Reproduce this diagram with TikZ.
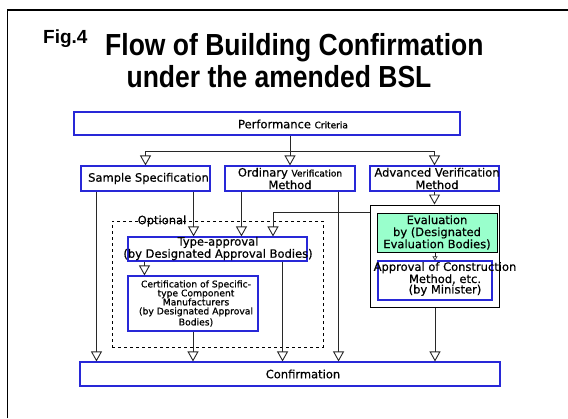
\documentclass[tikz,border=0pt]{standalone}
\usepackage{fontspec}
\setmainfont{DejaVu Sans}[FakeBold=0.6]
\newfontfamily\titlefont{Liberation Sans}
\usetikzlibrary{arrows.meta}
\definecolor{boxblue}{RGB}{40,40,215}
\definecolor{evalgreen}{RGB}{153,255,204}
\definecolor{linegray}{RGB}{40,40,40}
\tikzset{
  x=1pt, y=-1pt,
  bluebox/.style={draw=boxblue, line width=1.1pt, inner sep=0pt, rectangle},
  lbl/.style={inner sep=0pt, align=center, font=\fontsize{11.5}{11.5}\selectfont},
  titletext/.style={inner sep=0pt, font=\titlefont\bfseries\fontsize{26.5}{26.5}\selectfont},
  arr/.style={draw=linegray, line width=0.9pt, -{Triangle[open, length=10pt, width=11pt]}},
  conn/.style={draw=linegray, line width=0.9pt},
}
\begin{document}
\begin{tikzpicture}
\useasboundingbox (0,0) rectangle (568,418);
% outer frame
\coordinate (frameBL) at (7.5,418);
\coordinate (frameTL) at (7.5,10);
\coordinate (frameTR) at (568,10);
\draw[line width=1.6pt, black] (frameBL) -- (frameTL) -- (frameTR);

% title
\node[anchor=base west, inner sep=0pt, font=\titlefont\bfseries\fontsize{19}{19}\selectfont] (fig) at (43,43) {Fig.4};
\node[titletext, anchor=base west] (t1) at (105,55.5) {\scalebox{1}[1.15]{Flow of Building Confirmation}};
\node[titletext, anchor=base] (t2) at (279,87.5) {\scalebox{1}[1.15]{under the amended BSL}};

% boxes
\node[bluebox, minimum width=386pt, minimum height=23pt] (perf) at (267,123.5) {};
\node[lbl] (perfT) at (293,124) {Performance {\fontsize{9}{9}\selectfont Criteria}};

\node[bluebox, minimum width=129pt, minimum height=25pt] (sample) at (145.5,178.5) {};
\node[lbl] (sampleT) at (148.5,178.5) {Sample Specification};

\node[bluebox, minimum width=130pt, minimum height=25pt] (ordinary) at (290,178.5) {};
\node[lbl] (ordinaryT) at (290,178.5) {Ordinary {\fontsize{9}{9}\selectfont Verification}\\[1pt]Method};

\node[bluebox, minimum width=129pt, minimum height=25pt] (advanced) at (434.5,178.5) {};
\node[lbl] (advancedT) at (437,178.5) {Advanced Verification\\[1pt]Method};

% group box
\node[draw=black, line width=1pt, inner sep=0pt, minimum width=129pt, minimum height=102pt] (group) at (434.5,256) {};
\node[draw=black, line width=1pt, fill=evalgreen, inner sep=0pt, minimum width=120pt, minimum height=39pt] (eval) at (437,232.5) {};
\node[lbl, font=\fontsize{11.5}{9.5}\selectfont] (evalT) at (437,232.5) {Evaluation\\[2.5pt]by (Designated\\Evaluation Bodies)};
\node[bluebox, minimum width=114pt, minimum height=39pt] (approval) at (435,280.5) {};
\node[lbl, font=\fontsize{11.5}{10.5}\selectfont] (approvalT) at (445,279) {Approval of Construction\\Method, etc.\\(by Minister)};

% optional dashed
\node[draw=black, dashed, line width=0.8pt, inner sep=0pt, minimum width=211pt, minimum height=126pt] (optional) at (217.5,284) {};
\node[lbl] (optionalT) at (162,221) {Optional};

\node[bluebox, minimum width=179pt, minimum height=24pt] (type) at (217.5,249) {};
\node[lbl, font=\fontsize{11.5}{10.5}\selectfont] (typeT) at (218,248.5) {Type-approval\\(by Designated Approval Bodies)};

\node[bluebox, minimum width=130pt, minimum height=55pt] (cert) at (193,303.5) {};
\node[lbl, font=\fontsize{9.2}{9}\selectfont] (certT) at (196,303.5) {Certification of Specific-\\type Component\\Manufacturers\\(by Designated Approval\\[2pt]Bodies)};

\node[bluebox, minimum width=420pt, minimum height=24pt] (confirm) at (290,374) {};
\node[lbl] (confirmT) at (303,374) {Confirmation};

% connectors from performance criteria
\coordinate (bus) at (290,151);
\draw[conn] (perf.south -| bus) -- (bus);
\draw[conn] (sample.north |- bus) -- (advanced.north |- bus);
\draw[arr] (sample.north |- bus) -- (sample.north);
\draw[arr] (bus) -- (ordinary.north);
\draw[arr] (advanced.north |- bus) -- (advanced.north);

% sample specification
\coordinate (sL) at ([xshift=16pt]sample.south west);
\coordinate (sR) at ([xshift=-17pt]sample.south east);
\draw[arr] (sL) -- (sL |- confirm.north);
\draw[arr] (sR) -- (sR |- type.north);

% ordinary
\coordinate (oL) at ([xshift=17pt]ordinary.south west);
\coordinate (oR) at ([xshift=-17pt]ordinary.south east);
\draw[arr] (oL) -- (oL |- type.north);
\draw[arr] (oR) -- (oR |- confirm.north);

% advanced
\draw[arr] (advanced.south) -- (advanced.south |- group.north);
\coordinate (gL) at ([yshift=-8pt]group.north west);
\coordinate (tA) at (273,212.5);
\draw[conn] (gL) -- (tA);
\draw[arr] (tA) -- (tA |- type.north);
\draw[draw=linegray, line width=0.6pt, -{Triangle[open, length=4pt, width=5pt]}] (eval.south -| approval.north) -- (approval.north);
\draw[arr] (group.south -| approval.north) -- (approval.north |- confirm.north);

% type approval / certification
\coordinate (tL) at ([xshift=17pt]type.south west);
\coordinate (tR) at ([xshift=-25pt]type.south east);
\draw[arr] (tL) -- (tL |- cert.north);
\draw[arr] (tR) -- (tR |- confirm.north);
\draw[arr] (cert.south) -- (cert.south |- confirm.north);
\end{tikzpicture}
\end{document}
